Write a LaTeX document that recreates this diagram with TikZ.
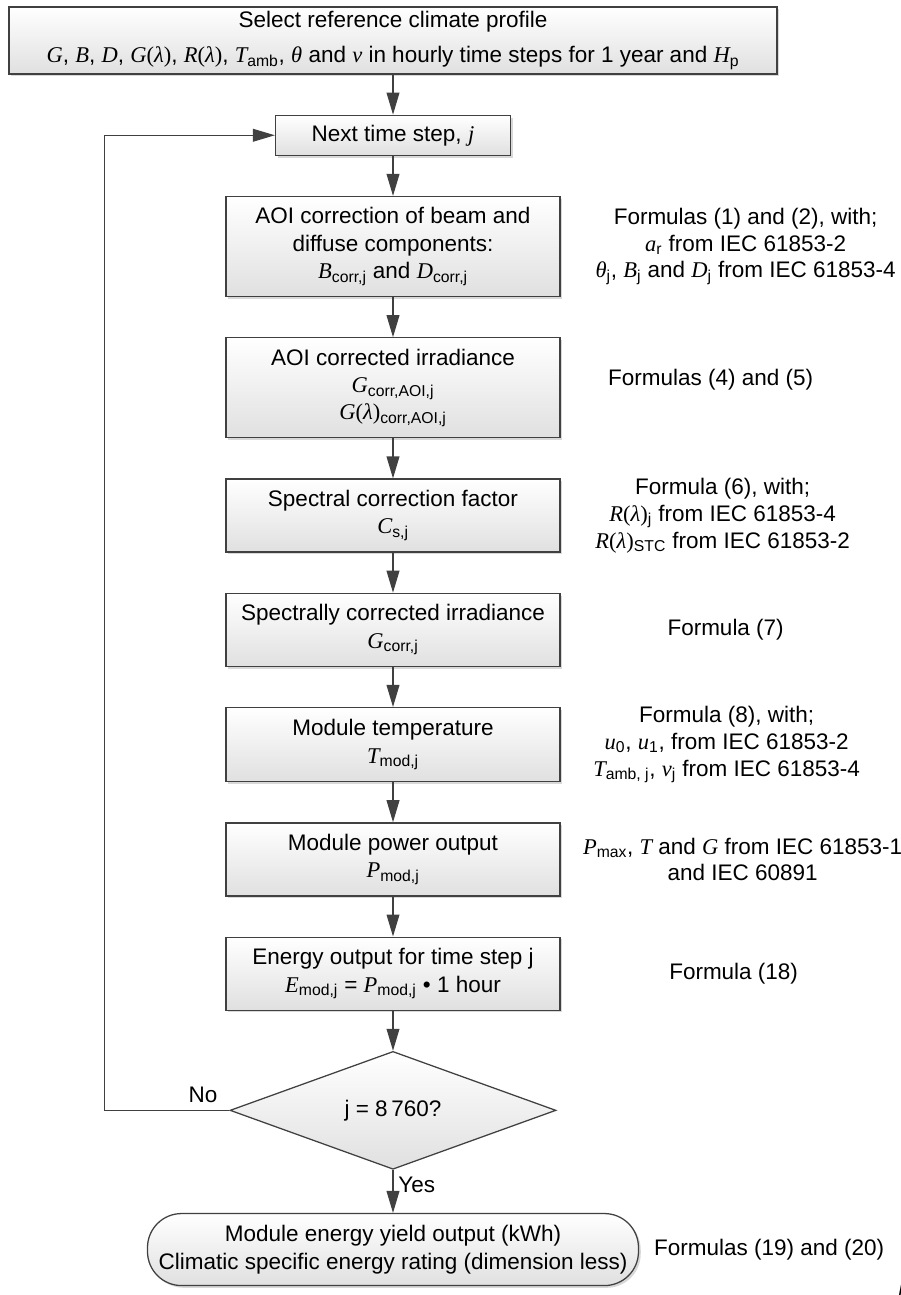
\documentclass[tikz,border=0pt]{standalone}
\usepackage{fontspec}
\setmainfont{Liberation Sans}
\newfontfamily\varfont{Liberation Serif}
\usetikzlibrary{arrows.meta,positioning,shapes.geometric,shadows}
\definecolor{cline}{HTML}{404040}
\definecolor{cfill}{HTML}{E0E0E0}
\newcommand{\mvar}[1]{{\varfont\itshape #1}}
\newcommand{\lamf}[1]{\mvar{#1}{\varfont(}\mvar{λ}{\varfont)}}
\tikzset{
  base/.style={draw=cline, line width=0.9pt, align=center, inner sep=2pt,
               font=\fontsize{16}{19.5}\selectfont, top color=white, bottom color=cfill},
  shad/.style={drop shadow={shadow xshift=1.6pt, shadow yshift=-1.6pt, fill=black!30}},
  pbox/.style={base, shad, minimum width=8.35cm, minimum height=1.825cm},
  dbox/.style={base, diamond, minimum width=8.15cm, minimum height=2.825cm, inner sep=0pt},
  tbox/.style={base, shad, rounded corners=0.85cm, minimum width=12.275cm, minimum height=1.8cm},
  note/.style={align=center, font=\fontsize{16}{19}\selectfont},
  flow/.style={-{Triangle[length=0.55cm, width=0.32cm]}, draw=cline, line width=0.9pt},
  lbl/.style={font=\fontsize{16}{19}\selectfont},
}
\begin{document}
\begin{tikzpicture}[node distance=1cm]
  \useasboundingbox (0,0) rectangle (22.525,-32.375);
  \node[pbox, minimum width=19.2cm, minimum height=1.675cm, font=\fontsize{16}{24.5}\selectfont] (sel) at (9.825,-1.0125)
    {Select reference climate profile\\
     \mvar{G}, \mvar{B}, \mvar{D}, \lamf{G}, \lamf{R}, \mvar{T}\textsubscript{amb}, \mvar{θ} and \mvar{v} in hourly time steps for 1 year and \mvar{H}\textsubscript{p}};
  \node[pbox, minimum width=5.875cm, minimum height=1cm, below=of sel] (nxt) {Next time step, \mvar{j}};
  \node[pbox, minimum height=2.5cm, below=of nxt] (aoi)
    {AOI correction of beam and\\ diffuse components:\\ \mvar{B}\textsubscript{corr,j} and \mvar{D}\textsubscript{corr,j}};
  \node[pbox, minimum height=2.5cm, below=of aoi] (irr)
    {AOI corrected irradiance\\ \mvar{G}\textsubscript{corr,AOI,j}\\ \lamf{G}\textsubscript{corr,AOI,j}};
  \node[pbox, below=of irr] (scf) {Spectral correction factor\\ \mvar{C}\textsubscript{s,j}};
  \node[pbox, below=of scf] (sci) {Spectrally corrected irradiance\\ \mvar{G}\textsubscript{corr,j}};
  \node[pbox, minimum height=1.85cm, below=of sci] (tmod) {Module temperature\\ \mvar{T}\textsubscript{mod,j}};
  \node[pbox, below=of tmod] (pmod) {Module power output\\ \mvar{P}\textsubscript{mod,j}};
  \node[pbox, below=of pmod] (emod)
    {Energy output for time step j\\ \mvar{E}\textsubscript{mod,j} = \mvar{P}\textsubscript{mod,j} • 1 hour};
  \node[dbox, below=of emod] (last) {j = 8\,760?};
  \node[tbox, below=1.075cm of last] (yield)
    {Module energy yield output (kWh)\\ Climatic specific energy rating (dimension less)};

  % references beside the steps
  \node[note, xshift=4.625cm] (naoi) at (aoi.east)
    {Formulas (1) and (2), with;\\ \mvar{a}\textsubscript{r} from IEC 61853-2\\
     \mvar{θ}\textsubscript{j}, \mvar{B}\textsubscript{j} and \mvar{D}\textsubscript{j} from IEC 61853-4};
  \node[note, xshift=3.75cm, yshift=0.2cm] (nirr) at (irr.east) {Formulas (4) and (5)};
  \node[note, xshift=4.05cm] (nscf) at (scf.east)
    {Formula (6), with;\\ \lamf{R}\textsubscript{j} from IEC 61853-4\\ \lamf{R}\textsubscript{STC} from IEC 61853-2};
  \node[note, xshift=4.125cm] (nsci) at (sci.east) {Formula (7)};
  \node[note, xshift=4.15cm] (ntmod) at (tmod.east)
    {Formula (8), with;\\ \mvar{u}\textsubscript{0}, \mvar{u}\textsubscript{1}, from IEC 61853-2\\
     \mvar{T}\textsubscript{amb, j}, \mvar{v}\textsubscript{j} from IEC 61853-4};
  \node[note, xshift=4.55cm] (npmod) at (pmod.east)
    {\mvar{P}\textsubscript{max}, \mvar{T} and \mvar{G} from IEC 61853-1\\ and IEC 60891};
  \node[note, xshift=4.325cm] (nemod) at (emod.east) {Formula (18)};
  \node[note, right=0.25cm of yield] (nyield) {Formulas (19) and (20)};
  \node[anchor=west, font=\itshape\fontsize{13}{13}\selectfont] (figid) at (22.33,-32.25) {IEC};

  \draw[flow] (sel) -- (nxt);
  \draw[flow] (nxt) -- (aoi);
  \draw[flow] (aoi) -- (irr);
  \draw[flow] (irr) -- (scf);
  \draw[flow] (scf) -- (sci);
  \draw[flow] (sci) -- (tmod);
  \draw[flow] (tmod) -- (pmod);
  \draw[flow] (pmod) -- (emod);
  \draw[flow] (emod) -- (last);
  \draw[flow] (last.west) -- ++(-3.125,0) node[lbl, pos=0.21, above, yshift=2pt] {No} |- (nxt.west);
  \draw[flow] (last) -- node[lbl, pos=0.35, right] {Yes} (yield);
\end{tikzpicture}
\end{document}
